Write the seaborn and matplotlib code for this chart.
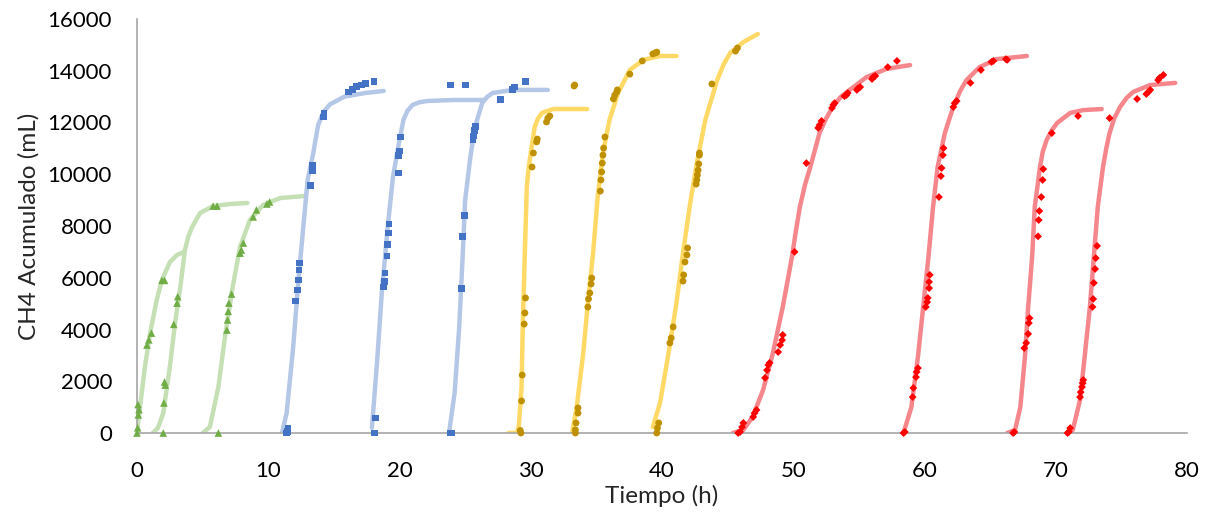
import numpy as np
import pandas as pd
import matplotlib
matplotlib.use('Agg')
import matplotlib.pyplot as plt
import seaborn as sns

# Fitted curves (time in h, cumulative CH4 in mL)
green_curves_t = [
    [0, 0.23, 0.6, 1.0, 1.5, 1.9, 2.5, 3.05, 3.6],
    [1.2, 1.6, 2.0, 2.5, 2.9, 3.3, 3.65, 3.9, 4.2, 4.8, 5.8, 7.1, 8.4],
    [5.0, 5.55, 6.2, 6.7, 7.25, 7.85, 8.6, 9.6, 10.9, 12.8],
]
green_curves_y = [
    [0, 1000, 2550, 3860, 5140, 5910, 6600, 6880, 7000],
    [0, 200, 770, 2550, 4250, 5640, 7070, 7580, 7960, 8500, 8770, 8850, 8890],
    [0, 230, 1780, 3710, 5530, 7190, 8230, 8810, 9080, 9160],
]
blue_curves_t = [
    [11.05, 11.4, 11.9, 12.3, 12.65, 13.0, 13.4, 13.8, 14.2, 14.7, 15.8, 17.4, 18.8],
    [17.9, 18.3, 18.65, 19.1, 19.5, 19.9, 20.3, 20.6, 21.0, 21.5, 22.1, 24.1, 26.4],
    [23.8, 24.2, 24.55, 24.8, 25.0, 25.4, 25.75, 26.3, 26.7, 27.1, 28.6, 31.3],
]
blue_curves_y = [
    [0, 770, 3320, 5910, 7850, 9780, 10740, 11900, 12400, 12700, 13000, 13140, 13220],
    [200, 2820, 5410, 7960, 9890, 11050, 12100, 12450, 12680, 12780, 12830, 12870, 12870],
    [100, 1550, 4100, 6690, 9000, 10670, 11830, 12750, 13000, 13140, 13260, 13260],
]
yellow_curves_t = [
    [28.3, 28.95, 29.1, 29.3, 29.4, 29.55, 29.7, 29.85, 30.0, 30.3, 30.55, 30.85, 31.7, 34.3],
    [33.15, 33.5, 34.0, 34.35, 34.75, 35.1, 35.5, 36.0, 36.65, 37.55, 38.6, 39.85, 41.1],
    [39.3, 39.85, 40.5, 41.1, 41.6, 42.15, 42.65, 43.3, 44.2, 44.7, 45.2, 46.2, 47.3],
]
yellow_curves_y = [
    [0, 0, 300, 1790, 4370, 6960, 9510, 10300, 10820, 11830, 12150, 12370, 12520, 12520],
    [0, 1000, 3090, 5020, 6960, 9120, 10820, 12100, 13140, 14030, 14420, 14570, 14570],
    [230, 1160, 3090, 5020, 6960, 8890, 10430, 12100, 13640, 14250, 14690, 15110, 15420],
]
red_curves_t = [
    [45.4, 46.2, 46.9, 47.7, 48.45, 49.2, 49.9, 50.2, 50.5, 50.9, 51.3, 52.0, 52.5, 53.0, 53.6,
     54.3, 55.6, 57.1, 58.9],
    [58.4, 59.0, 59.5, 59.9, 60.3, 60.65, 61.0, 61.55, 61.9, 62.2, 62.7, 63.2, 64.2, 65.5, 67.8],
    [66.3, 66.9, 67.3, 67.65, 67.9, 68.2, 68.4, 68.8, 69.0, 69.3, 69.7, 70.1, 71.1, 72.1, 73.5],
    [70.85, 71.3, 71.85, 72.2, 72.6, 72.9, 73.2, 73.6, 73.85, 74.1, 74.45, 74.9, 75.4, 75.9,
     77.2, 79.1],
]
red_curves_y = [
    [0, 120, 620, 1660, 3090, 4870, 6800, 7800, 8730, 9600, 10280, 11590, 12150, 12600, 12980,
     13260, 13760, 14070, 14220],
    [0, 1000, 2940, 4870, 6800, 8730, 10280, 11590, 12150, 12600, 13200, 13640, 14140, 14450, 14570],
    [0, 120, 1000, 2940, 4870, 6800, 8730, 10280, 10850, 11320, 11700, 11980, 12370, 12480, 12520],
    [0, 120, 1280, 2940, 4870, 6800, 8730, 10280, 11000, 11590, 12150, 12600, 12950, 13180,
     13450, 13530],
]

# Measured points
green_pts_t = [0, 0.05, 0.1, 0.15, 0.08, 0.76, 0.9, 1.1, 1.9, 2.1,
               2.0, 2.1, 2.15, 2.05, 2.8, 3.05, 3.1, 5.8, 6.1, 6.2,
               6.85, 6.9, 6.95, 7.0, 7.2, 7.85, 7.95, 8.1, 8.85, 9.1, 9.9, 10.1]
green_pts_y = [0, 200, 700, 900, 1100, 3400, 3600, 3860, 5900, 5900,
               0, 1970, 1850, 1160, 4200, 5020, 5270, 8770, 8770, 0,
               3980, 4370, 4700, 5020, 5370, 6950, 7070, 7340, 8350, 8620, 8850, 8930]
blue_pts_t = [11.4, 11.5, 11.45, 12.1, 12.2, 12.3, 12.35, 12.4, 13.2, 13.35, 13.4,
              14.2, 14.25, 16.1, 16.4, 16.7, 17.1, 17.4, 18.05,
              18.1, 18.2, 18.8, 18.85, 18.9, 19.05, 19.1, 19.15, 19.2, 19.9, 19.95, 20.0, 20.1,
              23.9, 25.0,
              23.9, 24.0, 24.7, 24.8, 24.95, 25.6, 25.65, 25.7, 25.8, 27.7, 28.6, 28.75, 29.6]
blue_pts_y = [0, 190, 60, 5100, 5530, 5910, 6300, 6570, 9550, 10160, 10360,
              12210, 12370, 13180, 13260, 13380, 13450, 13500, 13600,
              0, 580, 5640, 5870, 6180, 6840, 7270, 7730, 8080, 10050, 10740, 10900, 11440,
              13450, 13450,
              0, 0, 5570, 7600, 8420, 11320, 11480, 11700, 11830, 12900, 13260, 13370, 13570]
yellow_pts_t = [29.2, 29.25, 29.3, 29.35, 29.5, 29.55, 29.6, 30.1, 30.2, 30.45, 30.5,
                31.2, 31.3, 31.45, 33.3, 33.35,
                33.4, 33.4, 33.45, 33.6, 33.6, 34.35, 34.4, 34.5, 34.6, 34.65, 35.3, 35.35,
                35.4, 35.45, 35.5, 35.55, 35.65, 36.3, 36.4, 36.55, 36.6, 37.55, 38.5, 39.3,
                39.5, 39.6,
                39.6, 39.65, 39.75, 40.6, 40.7, 40.85, 41.6, 41.65, 41.75, 41.9, 41.95, 42.6,
                42.65, 42.7, 42.75, 42.8, 42.85, 42.85, 43.8, 45.6, 45.75]
yellow_pts_y = [100, 0, 1240, 2240, 4210, 4640, 5220, 10280, 10820, 11250, 11360,
                12020, 12170, 12250, 13410, 13450,
                0, 120, 390, 770, 970, 4870, 5180, 5410, 5760, 5990, 9350, 9780,
                10090, 10430, 10740, 11010, 11440, 12910, 13060, 13180, 13260, 13870, 14380, 14650,
                14690, 14720,
                0, 190, 390, 3480, 3670, 4100, 5870, 6110, 6610, 6880, 7150, 9620,
                9780, 9970, 10160, 10400, 10740, 10820, 13490, 14760, 14880]
red_pts_t = [45.8, 45.95, 46.1, 46.2, 46.95, 47.05, 47.2, 47.85, 48.0, 48.1, 48.2,
             48.85, 49.0, 49.15, 49.2, 50.1, 51.0, 51.9, 52.0, 52.15, 52.95, 53.05, 53.15,
             53.9, 54.05, 54.15, 54.85, 54.95, 55.1, 56.0, 56.1, 56.25, 57.2, 57.9,
             58.4, 58.5, 59.1, 59.15, 59.35, 59.4, 59.5, 60.1, 60.2, 60.25, 60.35, 60.35, 60.4,
             61.1, 61.25, 61.3, 61.4, 61.45, 62.2, 62.3, 62.45, 63.5, 64.3, 65.1, 65.25, 66.2, 66.3,
             66.75, 66.85, 67.6, 67.75, 67.9, 67.95, 68.0, 68.65, 68.7, 68.75, 68.9, 69.0, 69.05,
             69.7, 71.7,
             70.9, 71.0, 71.1, 71.85, 71.9, 72.0, 72.05, 72.1, 72.8, 72.85, 72.9, 73.0, 73.05,
             73.15, 74.1, 76.2, 76.9, 77.05, 77.2, 77.8, 77.9, 78.2]
red_pts_y = [0, 40, 230, 390, 620, 770, 890, 2130, 2430, 2630, 2710,
             3130, 3400, 3590, 3790, 7000, 10430, 11790, 11900, 12060, 12560, 12680, 12750,
             13020, 13060, 13140, 13260, 13330, 13370, 13680, 13760, 13800, 14140, 14380,
             0, 40, 1390, 1740, 2160, 2360, 2510, 4870, 5060, 5220, 5600, 5840, 6110,
             9120, 9930, 10240, 10740, 11010, 12600, 12750, 12830, 13530, 14030, 14340, 14380, 14450, 14420,
             0, 40, 3280, 3480, 3830, 4250, 4440, 7600, 8230, 8580, 9120, 9780, 10200,
             11590, 12250,
             0, 40, 190, 1390, 1580, 1780, 1930, 2050, 4870, 5180, 5800, 6340, 6760,
             7230, 12170, 12910, 13100, 13180, 13260, 13640, 13720, 13840]

sns.set_theme(style='white')
plt.rcParams['font.family'] = ['Lato', 'DejaVu Sans']

fig = plt.figure(figsize=(12.12, 5.15), dpi=100)
ax = fig.add_axes([137 / 1212, 1 - 433 / 515, 1050 / 1212, 414 / 515])

groups = [
    (green_curves_t, green_curves_y, '#C5E0B4'),
    (blue_curves_t, blue_curves_y, '#B4C7E7'),
    (yellow_curves_t, yellow_curves_y, '#FFD966'),
    (red_curves_t, red_curves_y, '#F4868C'),
]
for ts, ys, col in groups:
    for t, y in zip(ts, ys):
        curve = pd.DataFrame({'t': t, 'y': y})
        sns.lineplot(data=curve, x='t', y='y', ax=ax, color=col, lw=3.2,
                     sort=False, estimator=None, zorder=2)

points = [
    (green_pts_t, green_pts_y, '#70AD47', '^', 30),
    (blue_pts_t, blue_pts_y, '#4472C4', 's', 24),
    (yellow_pts_t, yellow_pts_y, '#BF9000', 'o', 24),
    (red_pts_t, red_pts_y, '#FF0000', 'D', 16),
]
for t, y, col, mk, s in points:
    pts = pd.DataFrame({'t': t, 'y': y})
    sns.scatterplot(data=pts, x='t', y='y', ax=ax, color=col, marker=mk, s=s,
                    edgecolor='none', linewidth=0, zorder=3, clip_on=False)

ax.set_xlim(0, 80)
ax.set_ylim(0, 16000)
ax.set_xticks(np.arange(0, 81, 10))
ax.set_yticks(np.arange(0, 16001, 2000))
ax.tick_params(axis='x', length=0, labelsize=16, colors='#000000', pad=20)
ax.tick_params(axis='y', length=0, labelsize=16, colors='#000000', pad=18)
ax.set_xlabel('Tiempo (h)', fontsize=17.5, labelpad=3)
ax.set_ylabel('CH4 Acumulado (mL)', fontsize=17.5, labelpad=6)
for side in ['top', 'right']:
    ax.spines[side].set_visible(False)
for side in ['left', 'bottom']:
    ax.spines[side].set_color('#A6A6A6')
    ax.spines[side].set_linewidth(1.2)

fig.savefig('out.png', dpi=100)
